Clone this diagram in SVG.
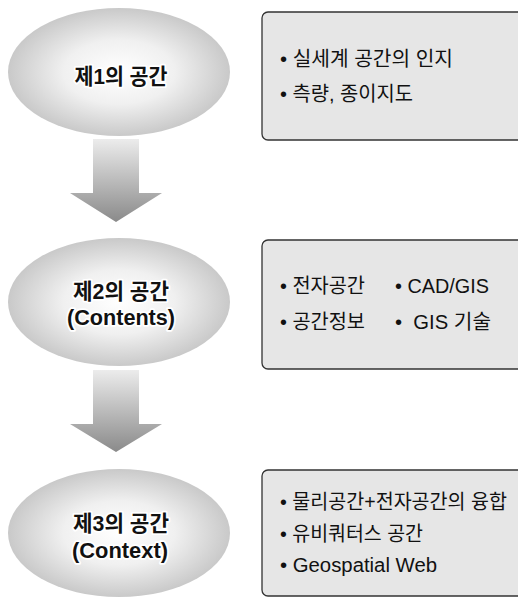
<svg xmlns="http://www.w3.org/2000/svg" width="518" height="598" viewBox="0 0 518 598">
<defs>
<radialGradient id="eg" cx="0.5" cy="0.5" r="0.5">
<stop offset="0" stop-color="#ffffff"/>
<stop offset="0.5" stop-color="#f0f0f0"/>
<stop offset="1" stop-color="#c9c9c9"/>
</radialGradient>
<linearGradient id="ag" x1="0" y1="0" x2="0" y2="1">
<stop offset="0" stop-color="#ececec"/>
<stop offset="1" stop-color="#8a8a8a"/>
</linearGradient>
</defs>
<style>
.ell{fill:url(#eg);}
.arr{fill:url(#ag);}
.box{fill:#e6e6e6;stroke:#333;stroke-width:1.3;}
.et{font-family:"Liberation Sans","Noto Sans CJK KR",sans-serif;font-weight:bold;font-size:22px;fill:#111;stroke:#fff;stroke-width:3.5;stroke-linejoin:round;paint-order:stroke;text-anchor:middle;}
.bt{font-family:"Liberation Sans","Noto Sans CJK KR",sans-serif;font-size:20px;fill:#111;}
</style>
<rect width="518" height="598" fill="#fff"/>
<g id="connectors">
<path class="arr" d="M93,139 H139 V193 H162 L116,222 L70,193 H93 Z"/>
<path class="arr" d="M93,370 H139 V424 H162 L116,452 L70,424 H93 Z"/>
</g>
<g id="node1">
<ellipse class="ell" cx="119" cy="72" rx="111" ry="64"/>
<text class="et" x="121" y="84" textLength="93" lengthAdjust="spacingAndGlyphs">제1의 공간</text>
</g>
<g id="node2">
<ellipse class="ell" cx="119" cy="302" rx="111" ry="64"/>
<text class="et" x="121" y="299" textLength="96" lengthAdjust="spacingAndGlyphs">제2의 공간</text>
<text class="et" x="121" y="325" textLength="108" lengthAdjust="spacingAndGlyphs">(Contents)</text>
</g>
<g id="node3">
<ellipse class="ell" cx="119" cy="533" rx="111" ry="64"/>
<text class="et" x="121" y="531" textLength="96" lengthAdjust="spacingAndGlyphs">제3의 공간</text>
<text class="et" x="120" y="558" textLength="96" lengthAdjust="spacingAndGlyphs">(Context)</text>
</g>
<g id="box1">
<rect class="box" x="262" y="12" width="270" height="128" rx="6"/>
<text class="bt" x="280" y="66" textLength="173" lengthAdjust="spacingAndGlyphs">• 실세계 공간의 인지</text>
<text class="bt" x="280" y="101" textLength="133" lengthAdjust="spacingAndGlyphs">• 측량, 종이지도</text>
</g>
<g id="box2">
<rect class="box" x="262" y="240" width="270" height="129" rx="6"/>
<text class="bt" x="280" y="293" textLength="85" lengthAdjust="spacingAndGlyphs">• 전자공간</text>
<text class="bt" x="395" y="293" textLength="94" lengthAdjust="spacingAndGlyphs">• CAD/GIS</text>
<text class="bt" x="280" y="329" textLength="85" lengthAdjust="spacingAndGlyphs">• 공간정보</text>
<text class="bt" x="395" y="329" textLength="96" lengthAdjust="spacingAndGlyphs">•&#160;&#160;GIS 기술</text>
</g>
<g id="box3">
<rect class="box" x="262" y="470" width="270" height="126" rx="6"/>
<text class="bt" x="280" y="509" textLength="227" lengthAdjust="spacingAndGlyphs">• 물리공간+전자공간의 융합</text>
<text class="bt" x="280" y="541" textLength="143" lengthAdjust="spacingAndGlyphs">• 유비쿼터스 공간</text>
<text class="bt" x="280" y="572" textLength="157" lengthAdjust="spacingAndGlyphs">• Geospatial Web</text>
</g>
</svg>
